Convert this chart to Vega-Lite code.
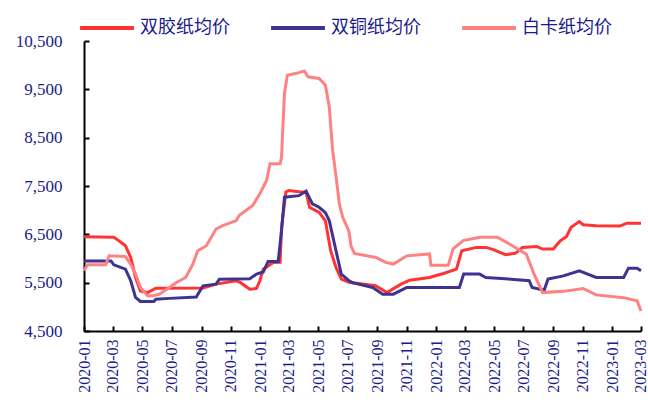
{
  "$schema": "https://vega.github.io/schema/vega-lite/v6.json",
  "width": 557,
  "height": 290,
  "autosize": {"type": "none"},
  "padding": {"left": 84, "top": 41, "right": 7, "bottom": 89},
  "background": "white",
  "config": {
    "view": {"stroke": null},
    "font": "Liberation Serif"
  },
  "data": {
    "values": [
      {"d":"2020-01-01","s":"双胶纸均价","v":6450},
      {"d":"2020-03-03","s":"双胶纸均价","v":6440},
      {"d":"2020-03-13","s":"双胶纸均价","v":6370},
      {"d":"2020-03-27","s":"双胶纸均价","v":6265},
      {"d":"2020-04-07","s":"双胶纸均价","v":6020},
      {"d":"2020-04-17","s":"双胶纸均价","v":5607},
      {"d":"2020-04-27","s":"双胶纸均价","v":5330},
      {"d":"2020-05-12","s":"双胶纸均价","v":5295},
      {"d":"2020-05-29","s":"双胶纸均价","v":5385},
      {"d":"2020-09-04","s":"双胶纸均价","v":5390},
      {"d":"2020-10-01","s":"双胶纸均价","v":5470},
      {"d":"2020-11-12","s":"双胶纸均价","v":5540},
      {"d":"2020-11-21","s":"双胶纸均价","v":5500},
      {"d":"2020-12-10","s":"双胶纸均价","v":5365},
      {"d":"2020-12-24","s":"双胶纸均价","v":5380},
      {"d":"2020-12-31","s":"双胶纸均价","v":5540},
      {"d":"2021-01-07","s":"双胶纸均价","v":5780},
      {"d":"2021-01-28","s":"双胶纸均价","v":5918},
      {"d":"2021-02-11","s":"双胶纸均价","v":5920},
      {"d":"2021-02-14","s":"双胶纸均价","v":6645},
      {"d":"2021-02-23","s":"双胶纸均价","v":7375},
      {"d":"2021-03-01","s":"双胶纸均价","v":7406},
      {"d":"2021-03-22","s":"双胶纸均价","v":7380},
      {"d":"2021-04-06","s":"双胶纸均价","v":7370},
      {"d":"2021-04-13","s":"双胶纸均价","v":7060},
      {"d":"2021-05-03","s":"双胶纸均价","v":6955},
      {"d":"2021-05-16","s":"双胶纸均价","v":6780},
      {"d":"2021-05-27","s":"双胶纸均价","v":6160},
      {"d":"2021-06-07","s":"双胶纸均价","v":5815},
      {"d":"2021-06-18","s":"双胶纸均价","v":5573},
      {"d":"2021-07-04","s":"双胶纸均价","v":5510},
      {"d":"2021-08-28","s":"双胶纸均价","v":5435},
      {"d":"2021-09-21","s":"双胶纸均价","v":5295},
      {"d":"2021-10-20","s":"双胶纸均价","v":5470},
      {"d":"2021-11-07","s":"双胶纸均价","v":5552},
      {"d":"2021-12-18","s":"双胶纸均价","v":5607},
      {"d":"2022-01-16","s":"双胶纸均价","v":5690},
      {"d":"2022-02-12","s":"双胶纸均价","v":5780},
      {"d":"2022-02-23","s":"双胶纸均价","v":6160},
      {"d":"2022-03-25","s":"双胶纸均价","v":6230},
      {"d":"2022-04-14","s":"双胶纸均价","v":6230},
      {"d":"2022-04-27","s":"双胶纸均价","v":6195},
      {"d":"2022-05-25","s":"双胶纸均价","v":6078},
      {"d":"2022-06-15","s":"双胶纸均价","v":6110},
      {"d":"2022-06-29","s":"双胶纸均价","v":6230},
      {"d":"2022-07-28","s":"双胶纸均价","v":6250},
      {"d":"2022-08-10","s":"双胶纸均价","v":6195},
      {"d":"2022-09-01","s":"双胶纸均价","v":6195},
      {"d":"2022-09-16","s":"双胶纸均价","v":6370},
      {"d":"2022-09-28","s":"双胶纸均价","v":6450},
      {"d":"2022-10-08","s":"双胶纸均价","v":6645},
      {"d":"2022-10-25","s":"双胶纸均价","v":6763},
      {"d":"2022-11-02","s":"双胶纸均价","v":6700},
      {"d":"2022-11-29","s":"双胶纸均价","v":6680},
      {"d":"2023-01-17","s":"双胶纸均价","v":6670},
      {"d":"2023-02-01","s":"双胶纸均价","v":6730},
      {"d":"2023-03-02","s":"双胶纸均价","v":6730},

      {"d":"2020-01-01","s":"双铜纸均价","v":5950},
      {"d":"2020-02-26","s":"双铜纸均价","v":5950},
      {"d":"2020-03-03","s":"双铜纸均价","v":5870},
      {"d":"2020-03-27","s":"双铜纸均价","v":5780},
      {"d":"2020-04-07","s":"双铜纸均价","v":5540},
      {"d":"2020-04-17","s":"双铜纸均价","v":5193},
      {"d":"2020-04-27","s":"双铜纸均价","v":5110},
      {"d":"2020-05-25","s":"双铜纸均价","v":5110},
      {"d":"2020-05-29","s":"双铜纸均价","v":5158},
      {"d":"2020-06-26","s":"双铜纸均价","v":5175},
      {"d":"2020-08-21","s":"双铜纸均价","v":5205},
      {"d":"2020-09-04","s":"双铜纸均价","v":5435},
      {"d":"2020-10-01","s":"双铜纸均价","v":5470},
      {"d":"2020-10-08","s":"双铜纸均价","v":5573},
      {"d":"2020-12-10","s":"双铜纸均价","v":5580},
      {"d":"2020-12-24","s":"双铜纸均价","v":5677},
      {"d":"2021-01-07","s":"双铜纸均价","v":5720},
      {"d":"2021-01-17","s":"双铜纸均价","v":5938},
      {"d":"2021-02-07","s":"双铜纸均价","v":5938},
      {"d":"2021-02-14","s":"双铜纸均价","v":6575},
      {"d":"2021-02-20","s":"双铜纸均价","v":7268},
      {"d":"2021-03-22","s":"双铜纸均价","v":7300},
      {"d":"2021-04-06","s":"双铜纸均价","v":7395},
      {"d":"2021-04-19","s":"双铜纸均价","v":7130},
      {"d":"2021-05-03","s":"双铜纸均价","v":7060},
      {"d":"2021-05-16","s":"双铜纸均价","v":6950},
      {"d":"2021-05-24","s":"双铜纸均价","v":6784},
      {"d":"2021-06-07","s":"双铜纸均价","v":6160},
      {"d":"2021-06-18","s":"双铜纸均价","v":5677},
      {"d":"2021-07-04","s":"双铜纸均价","v":5540},
      {"d":"2021-07-11","s":"双铜纸均价","v":5500},
      {"d":"2021-08-22","s":"双铜纸均价","v":5400},
      {"d":"2021-09-12","s":"双铜纸均价","v":5262},
      {"d":"2021-10-04","s":"双铜纸均价","v":5262},
      {"d":"2021-11-01","s":"双铜纸均价","v":5400},
      {"d":"2021-12-18","s":"双铜纸均价","v":5400},
      {"d":"2022-02-18","s":"双铜纸均价","v":5400},
      {"d":"2022-02-27","s":"双铜纸均价","v":5677},
      {"d":"2022-04-01","s":"双铜纸均价","v":5677},
      {"d":"2022-04-14","s":"双铜纸均价","v":5607},
      {"d":"2022-05-25","s":"双铜纸均价","v":5580},
      {"d":"2022-07-13","s":"双铜纸均价","v":5540},
      {"d":"2022-07-19","s":"双铜纸均价","v":5400},
      {"d":"2022-08-13","s":"双铜纸均价","v":5345},
      {"d":"2022-08-21","s":"双铜纸均价","v":5573},
      {"d":"2022-09-22","s":"双铜纸均价","v":5640},
      {"d":"2022-10-25","s":"双铜纸均价","v":5745},
      {"d":"2022-11-29","s":"双铜纸均价","v":5607},
      {"d":"2023-01-25","s":"双铜纸均价","v":5607},
      {"d":"2023-02-04","s":"双铜纸均价","v":5800},
      {"d":"2023-02-22","s":"双铜纸均价","v":5800},
      {"d":"2023-03-02","s":"双铜纸均价","v":5745},

      {"d":"2020-01-01","s":"白卡纸均价","v":5745},
      {"d":"2020-01-08","s":"白卡纸均价","v":5870},
      {"d":"2020-02-15","s":"白卡纸均价","v":5870},
      {"d":"2020-02-22","s":"白卡纸均价","v":6055},
      {"d":"2020-03-27","s":"白卡纸均价","v":6040},
      {"d":"2020-04-07","s":"白卡纸均价","v":5880},
      {"d":"2020-04-17","s":"白卡纸均价","v":5677},
      {"d":"2020-04-27","s":"白卡纸均价","v":5400},
      {"d":"2020-05-12","s":"白卡纸均价","v":5227},
      {"d":"2020-05-22","s":"白卡纸均价","v":5227},
      {"d":"2020-06-05","s":"白卡纸均价","v":5260},
      {"d":"2020-06-26","s":"白卡纸均价","v":5400},
      {"d":"2020-07-10","s":"白卡纸均价","v":5500},
      {"d":"2020-07-30","s":"白卡纸均价","v":5607},
      {"d":"2020-08-14","s":"白卡纸均价","v":5885},
      {"d":"2020-08-24","s":"白卡纸均价","v":6160},
      {"d":"2020-09-11","s":"白卡纸均价","v":6265},
      {"d":"2020-10-01","s":"白卡纸均价","v":6610},
      {"d":"2020-10-15","s":"白卡纸均价","v":6680},
      {"d":"2020-11-12","s":"白卡纸均价","v":6784},
      {"d":"2020-11-18","s":"白卡纸均价","v":6890},
      {"d":"2020-12-16","s":"白卡纸均价","v":7095},
      {"d":"2020-12-31","s":"白卡纸均价","v":7337},
      {"d":"2021-01-14","s":"白卡纸均价","v":7614},
      {"d":"2021-01-21","s":"白卡纸均价","v":7960},
      {"d":"2021-02-11","s":"白卡纸均价","v":7960},
      {"d":"2021-02-14","s":"白卡纸均价","v":8100},
      {"d":"2021-02-20","s":"白卡纸均价","v":9415},
      {"d":"2021-02-26","s":"白卡纸均价","v":9790},
      {"d":"2021-03-20","s":"白卡纸均价","v":9840},
      {"d":"2021-04-02","s":"白卡纸均价","v":9880},
      {"d":"2021-04-10","s":"白卡纸均价","v":9760},
      {"d":"2021-05-03","s":"白卡纸均价","v":9725},
      {"d":"2021-05-16","s":"白卡纸均价","v":9585},
      {"d":"2021-05-24","s":"白卡纸均价","v":9140},
      {"d":"2021-05-31","s":"白卡纸均价","v":8240},
      {"d":"2021-06-07","s":"白卡纸均价","v":7700},
      {"d":"2021-06-14","s":"白卡纸均价","v":7130},
      {"d":"2021-06-21","s":"白卡纸均价","v":6853},
      {"d":"2021-07-04","s":"白卡纸均价","v":6560},
      {"d":"2021-07-08","s":"白卡纸均价","v":6265},
      {"d":"2021-07-15","s":"白卡纸均价","v":6105},
      {"d":"2021-08-29","s":"白卡纸均价","v":6020},
      {"d":"2021-09-18","s":"白卡纸均价","v":5920},
      {"d":"2021-10-04","s":"白卡纸均价","v":5885},
      {"d":"2021-10-10","s":"白卡纸均价","v":5920},
      {"d":"2021-11-01","s":"白卡纸均价","v":6055},
      {"d":"2021-12-18","s":"白卡纸均价","v":6095},
      {"d":"2021-12-21","s":"白卡纸均价","v":5860},
      {"d":"2022-01-26","s":"白卡纸均价","v":5860},
      {"d":"2022-02-05","s":"白卡纸均价","v":6200},
      {"d":"2022-02-26","s":"白卡纸均价","v":6370},
      {"d":"2022-04-01","s":"白卡纸均价","v":6440},
      {"d":"2022-05-08","s":"白卡纸均价","v":6440},
      {"d":"2022-06-02","s":"白卡纸均价","v":6300},
      {"d":"2022-07-07","s":"白卡纸均价","v":6090},
      {"d":"2022-07-23","s":"白卡纸均价","v":5677},
      {"d":"2022-08-10","s":"白卡纸均价","v":5295},
      {"d":"2022-09-22","s":"白卡纸均价","v":5320},
      {"d":"2022-11-02","s":"白卡纸均价","v":5380},
      {"d":"2022-11-29","s":"白卡纸均价","v":5247},
      {"d":"2023-01-25","s":"白卡纸均价","v":5190},
      {"d":"2023-02-22","s":"白卡纸均价","v":5123},
      {"d":"2023-03-02","s":"白卡纸均价","v":4915}
    ]
  },
  "mark": {"type": "line", "strokeWidth": 3, "clip": false},
  "encoding": {
    "x": {
      "field": "d",
      "type": "temporal",
      "scale": {"type": "utc", "domain": ["2020-01-01", "2023-03-02"]},
      "axis": {
        "title": null,
        "format": "%Y-%m",
        "tickCount": {"interval": "month", "step": 2},
        "labelAngle": -90,
        "labelFontSize": 16,
        "labelColor": "#1a1a8c",
        "labelFont": "Liberation Serif",
        "labelPadding": 13,
        "tickSize": -5,
        "tickWidth": 2,
        "tickColor": "black",
        "domainColor": "black",
        "domainWidth": 2,
        "grid": false,
        "labelOverlap": false,
        "labelFlush": false
      }
    },
    "y": {
      "field": "v",
      "type": "quantitative",
      "scale": {"domain": [4500, 10500], "nice": false, "zero": false},
      "axis": {
        "title": null,
        "values": [4500, 5500, 6500, 7500, 8500, 9500, 10500],
        "format": ",.0f",
        "labelFontSize": 17,
        "labelColor": "#1a1a8c",
        "labelFont": "Liberation Serif",
        "labelPadding": 27,
        "tickSize": -5,
        "tickWidth": 2,
        "tickColor": "black",
        "domainColor": "black",
        "domainWidth": 2,
        "grid": false
      }
    },
    "color": {
      "field": "s",
      "type": "nominal",
      "scale": {
        "domain": ["双胶纸均价", "双铜纸均价", "白卡纸均价"],
        "range": ["#ff3333", "#3d3393", "#ff8282"]
      },
      "legend": {
        "title": null,
        "orient": "none",
        "direction": "horizontal",
        "legendX": -6,
        "legendY": -42,
        "padding": 0,
        "symbolType": "stroke",
        "symbolSize": 2900,
        "symbolStrokeWidth": 4,
        "labelFontSize": 18,
        "labelColor": "#1a1a8c",
        "labelFont": "Noto Sans CJK SC",
        "labelOffset": 4,
        "columnPadding": 33
      }
    }
  }
}
